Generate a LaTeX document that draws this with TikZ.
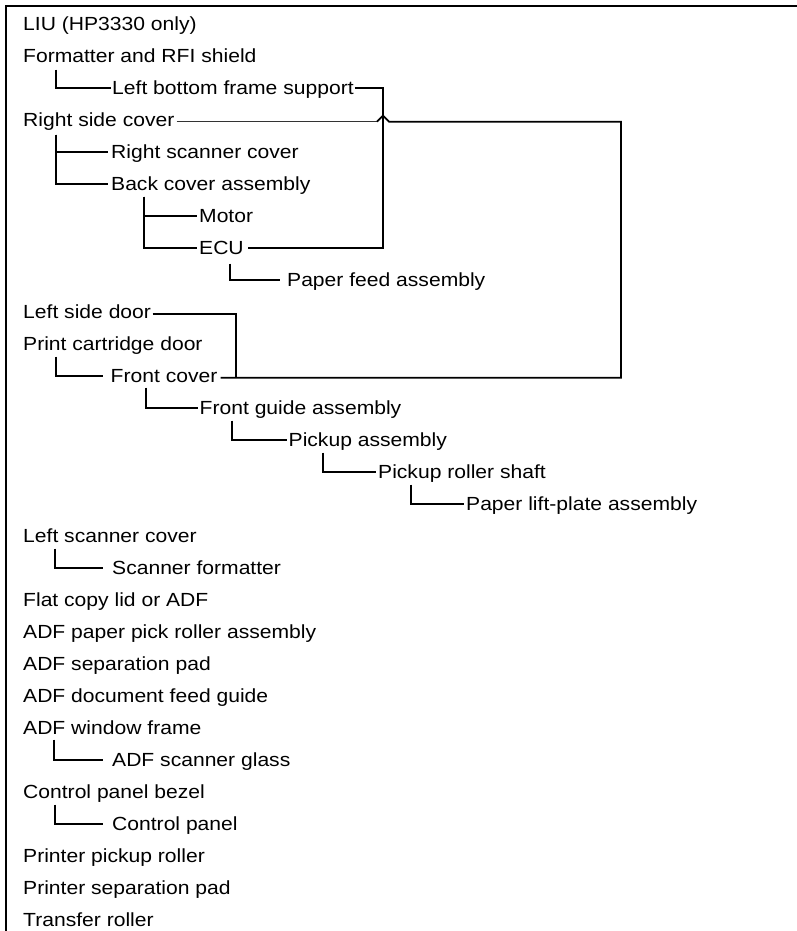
\documentclass[tikz,border=0pt]{standalone}
\usepackage{fontspec}
\setmainfont{Liberation Sans}[FakeStretch=1.11]
\usetikzlibrary{calc}
\begin{document}
\begin{tikzpicture}[x=1pt,y=-1pt,
  lbl/.style={anchor=base west, inner sep=0pt, font=\fontsize{19}{22}\selectfont},
  conn/.style={line width=1.8pt},
  thinconn/.style={line width=1.1pt, black!80}]
\useasboundingbox (0,0) rectangle (797,931);
% frame
\draw[line width=2pt] (797,6) -- (6,6) -- (6,931);
% labels
\node[lbl] (liu)   at (23,30.7)   {LIU (HP3330 only)};
\node[lbl] (fmt)   at (23,62.7)   {Formatter and RFI shield};
\node[lbl] (lbfs)  at (112,94.7)  {Left bottom frame support};
\node[lbl] (rsc)   at (23,126.7)  {Right side cover};
\node[lbl] (rscan) at (111,158.7) {Right scanner cover};
\node[lbl] (bca)   at (111,190.7) {Back cover assembly};
\node[lbl] (motor) at (199,222.7) {Motor};
\node[lbl] (ecu)   at (199,254.7) {ECU};
\node[lbl] (pfa)   at (287,286.7) {Paper feed assembly};
\node[lbl] (lsd)   at (23,318.7)  {Left side door};
\node[lbl] (pcd)   at (23,350.7)  {Print cartridge door};
\node[lbl] (fc)    at (110.5,382.7) {Front cover};
\node[lbl] (fga)   at (199.5,414.7) {Front guide assembly};
\node[lbl] (pa)    at (288.5,446.7) {Pickup assembly};
\node[lbl] (prs)   at (378,478.7) {Pickup roller shaft};
\node[lbl] (plp)   at (466,510.7) {Paper lift-plate assembly};
\node[lbl] (lsc)   at (23,542.7)  {Left scanner cover};
\node[lbl] (sf)    at (112,574.7) {Scanner formatter};
\node[lbl] (fcl)   at (23,606.7)  {Flat copy lid or ADF};
\node[lbl] (appr)  at (23,638.7)  {ADF paper pick roller assembly};
\node[lbl] (asp)   at (23,670.7)  {ADF separation pad};
\node[lbl] (adfg)  at (23,702.7)  {ADF document feed guide};
\node[lbl] (awf)   at (23,734.7)  {ADF window frame};
\node[lbl] (asg)   at (112,766.7) {ADF scanner glass};
\node[lbl] (cpb)   at (23,798.7)  {Control panel bezel};
\node[lbl] (cp)    at (112,830.7) {Control panel};
\node[lbl] (ppr)   at (23,862.7)  {Printer pickup roller};
\node[lbl] (psp)   at (23,894.7)  {Printer separation pad};
\node[lbl] (tr)    at (23,926.7)  {Transfer roller};
% tree connectors
\draw[conn] ($(fmt.base west)+(33,7)$) |- ($(lbfs.base west)+(-1,-6.5)$);
\draw[conn] ($(rsc.base west)+(33,8)$) |- ($(rscan.base west)+(-3,-6.5)$);
\draw[conn] ($(rsc.base west)+(33,8)$) |- ($(bca.base west)+(-3,-6.5)$);
\draw[conn] ($(bca.base west)+(33,6)$) |- ($(motor.base west)+(-2,-6.5)$);
\draw[conn] ($(bca.base west)+(33,6)$) |- ($(ecu.base west)+(-2,-6.5)$);
\draw[conn] ($(ecu.base west)+(31,9)$) |- ($(pfa.base west)+(-7,-6.5)$);
\draw[conn] ($(pcd.base west)+(33,6)$) |- ($(fc.base west)+(-8,-6.5)$);
\draw[conn] ($(fc.base west)+(35.5,5)$) |- ($(fga.base west)+(-2,-6.5)$);
\draw[conn] ($(fga.base west)+(32.5,6)$) |- ($(pa.base west)+(-2,-6.5)$);
\draw[conn] ($(pa.base west)+(34.5,6)$) |- ($(prs.base west)+(-2,-6.5)$);
\draw[conn] ($(prs.base west)+(33,6)$) |- ($(plp.base west)+(-2,-6.5)$);
\draw[conn] ($(lsc.base west)+(32,6)$) |- ($(sf.base west)+(-9,-6.5)$);
\draw[conn] ($(awf.base west)+(31,5)$) |- ($(asg.base west)+(-9,-6.5)$);
\draw[conn] ($(cpb.base west)+(32,6)$) |- ($(cp.base west)+(-9,-6.5)$);
% long connectors on the right
\coordinate (railA) at (383,170);
\coordinate (hop) at (377,0);
\coordinate (railB) at (621,250);
\coordinate (railC) at (236,350);
\coordinate (fcline) at ($(fc.base east)+(3,-5)$);
\draw[conn] ($(lbfs.base east)+(1,-6.5)$) -| (railA) |- ($(ecu.base east)+(4,-6.5)$);
\draw[thinconn] ($(rsc.base east)+(2,-5)$) coordinate (rs0) -- (rs0 -| hop);
\draw[conn] (rs0 -| hop) -- ++(6,-6) -- ++(6,6) -| (railB) |- (fcline);
\draw[conn] ($(lsd.base east)+(1.5,-5)$) -| (railC |- fcline);
\end{tikzpicture}
\end{document}
